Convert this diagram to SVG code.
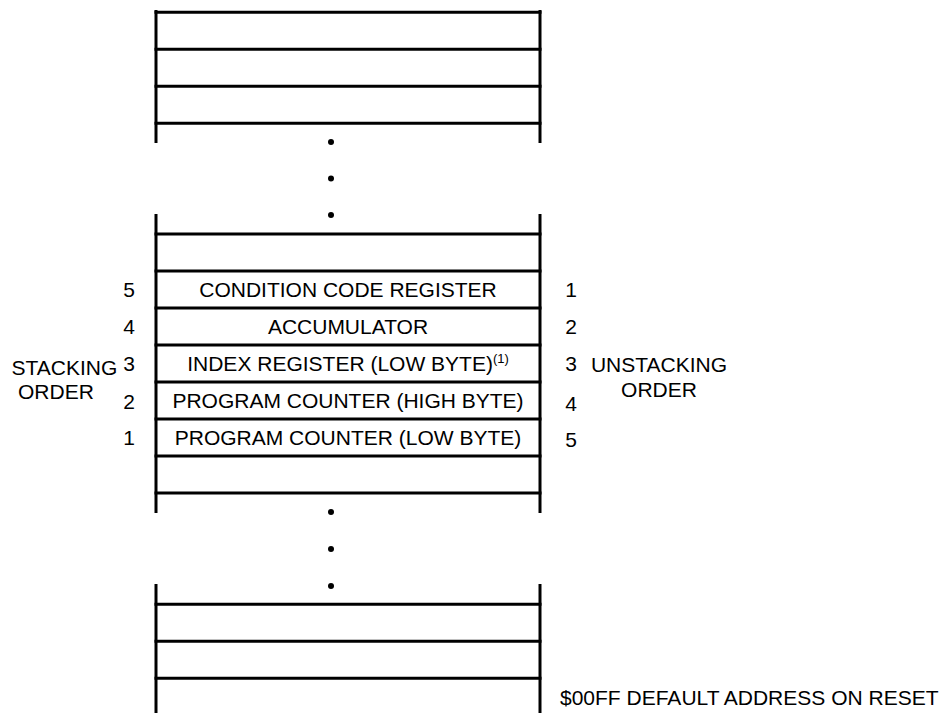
<svg xmlns="http://www.w3.org/2000/svg" width="952" height="713" viewBox="0 0 952 713">
<style>
.ln{stroke:#000;stroke-width:3;fill:none}
.t{font-family:"Liberation Sans",Arial,sans-serif;font-size:21px;fill:#000}
.c{text-anchor:middle}
.dot{fill:#000}
</style>
<rect width="952" height="713" fill="#fff"/>
<g id="stack-top">
<line class="ln" x1="156" y1="10" x2="156" y2="143"/>
<line class="ln" x1="540" y1="10" x2="540" y2="143"/>
<line class="ln" x1="154.5" y1="12.3" x2="541.5" y2="12.3"/>
<line class="ln" x1="154.5" y1="49.3" x2="541.5" y2="49.3"/>
<line class="ln" x1="154.5" y1="86.3" x2="541.5" y2="86.3"/>
<line class="ln" x1="154.5" y1="123.3" x2="541.5" y2="123.3"/>
</g>
<g id="dots-upper">
<circle class="dot" cx="331" cy="142" r="3"/>
<circle class="dot" cx="331" cy="178.5" r="3"/>
<circle class="dot" cx="331" cy="215" r="3"/>
</g>
<g id="stack-middle">
<line class="ln" x1="156" y1="214" x2="156" y2="513"/>
<line class="ln" x1="540" y1="214" x2="540" y2="513"/>
<line class="ln" x1="154.5" y1="234" x2="541.5" y2="234"/>
<line class="ln" x1="154.5" y1="271" x2="541.5" y2="271"/>
<line class="ln" x1="154.5" y1="308" x2="541.5" y2="308"/>
<line class="ln" x1="154.5" y1="345" x2="541.5" y2="345"/>
<line class="ln" x1="154.5" y1="382" x2="541.5" y2="382"/>
<line class="ln" x1="154.5" y1="419" x2="541.5" y2="419"/>
<line class="ln" x1="154.5" y1="456" x2="541.5" y2="456"/>
<line class="ln" x1="154.5" y1="493" x2="541.5" y2="493"/>
</g>
<g id="ccr">
<text class="t c" x="348" y="297">CONDITION CODE REGISTER</text>
<text class="t c" x="129" y="297">5</text>
<text class="t c" x="571" y="297">1</text>
</g>
<g id="acc">
<text class="t c" x="348" y="334">ACCUMULATOR</text>
<text class="t c" x="129" y="334">4</text>
<text class="t c" x="571" y="334">2</text>
</g>
<g id="index">
<text class="t c" x="348" y="371">INDEX REGISTER (LOW BYTE)<tspan font-size="13" dy="-8">(1)</tspan></text>
<text class="t c" x="129" y="371">3</text>
<text class="t c" x="571" y="371">3</text>
</g>
<g id="pch">
<text class="t c" x="348" y="408">PROGRAM COUNTER (HIGH BYTE)</text>
<text class="t c" x="129" y="409">2</text>
<text class="t c" x="571" y="411">4</text>
</g>
<g id="pcl">
<text class="t c" x="348" y="445">PROGRAM COUNTER (LOW BYTE)</text>
<text class="t c" x="129" y="445">1</text>
<text class="t c" x="571" y="447">5</text>
</g>
<g id="stacking-order">
<text class="t" x="11.5" y="375">STACKING</text>
<text class="t" x="18" y="399">ORDER</text>
</g>
<g id="unstacking-order">
<text class="t c" x="659" y="372">UNSTACKING</text>
<text class="t c" x="659" y="397">ORDER</text>
</g>
<g id="dots-lower">
<circle class="dot" cx="331" cy="512" r="3"/>
<circle class="dot" cx="331" cy="549" r="3"/>
<circle class="dot" cx="331" cy="586" r="3"/>
</g>
<g id="stack-bottom">
<line class="ln" x1="156" y1="584" x2="156" y2="713"/>
<line class="ln" x1="540" y1="584" x2="540" y2="713"/>
<line class="ln" x1="154.5" y1="604.3" x2="541.5" y2="604.3"/>
<line class="ln" x1="154.5" y1="641.3" x2="541.5" y2="641.3"/>
<line class="ln" x1="154.5" y1="678.3" x2="541.5" y2="678.3"/>
</g>
<g id="reset-address">
<text class="t" x="560" y="705">$00FF DEFAULT ADDRESS ON RESET</text>
</g>
<g id="connectors"></g>
</svg>
